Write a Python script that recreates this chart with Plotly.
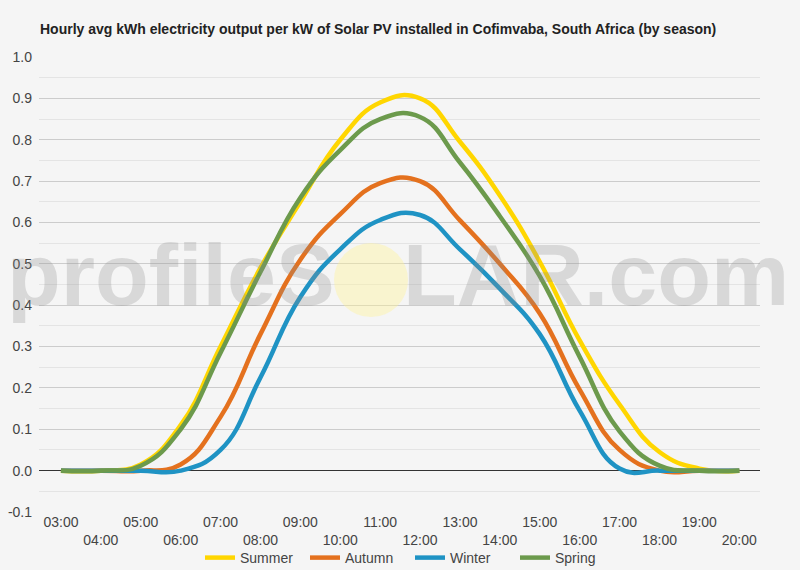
import plotly.graph_objects as go

hours = list(range(3, 21))
hour_labels = [f"{h:02d}:00" for h in hours]
y_ticks = [-0.1, 0.0, 0.1, 0.2, 0.3, 0.4, 0.5, 0.6, 0.7, 0.8, 0.9, 1.0]
y_labels = ["-0.1", "0.0", "0.1", "0.2", "0.3", "0.4", "0.5", "0.6", "0.7", "0.8", "0.9", "1.0"]

summer = [0, 0, 0.015, 0.11, 0.30, 0.49, 0.65, 0.80, 0.89, 0.90, 0.795, 0.665, 0.505, 0.315, 0.16, 0.045, 0.005, 0]
autumn = [0, 0, 0, 0.015, 0.13, 0.33, 0.51, 0.62, 0.695, 0.70, 0.605, 0.50, 0.38, 0.196, 0.05, 0, 0, 0]
winter = [0, 0, 0, 0, 0.05, 0.225, 0.42, 0.535, 0.606, 0.618, 0.535, 0.44, 0.33, 0.145, 0.005, 0, 0, 0]
spring = [0, 0, 0.012, 0.10, 0.285, 0.48, 0.66, 0.775, 0.85, 0.855, 0.745, 0.615, 0.47, 0.275, 0.095, 0.012, 0, 0]

series = [
    ("Summer", summer, "#FFD600"),
    ("Autumn", autumn, "#E4711E"),
    ("Winter", winter, "#1F93C4"),
    ("Spring", spring, "#6C9A4C"),
]

title_text = "Hourly avg kWh electricity output per kW of Solar PV installed in Cofimvaba, South Africa (by season)"

fig = go.Figure()
for name, vals, col in series:
    fig.add_trace(go.Scatter(
        x=hours, y=vals, name=name, mode="lines",
        line=dict(color=col, width=4.5, shape="spline", smoothing=1.3),
    ))

ticktext = [lab if i % 2 == 0 else "<br>" + lab for i, lab in enumerate(hour_labels)]

W, H = 800, 570
L, R, T, B = 39, 40, 57, 58
pw = W - L - R
ph = H - T - B

def px_x(p):
    return (p - L) / pw

def px_y(p):
    return (H - B - p) / ph

fig.update_layout(
    width=W, height=H,
    margin=dict(l=L, r=R, t=T, b=B, autoexpand=False),
    paper_bgcolor="#f5f5f5", plot_bgcolor="rgba(0,0,0,0)",
    font=dict(family="Liberation Sans, Arial, sans-serif", size=14, color="#444"),
    title=dict(text="<b>" + title_text + "</b>", x=40 / W, xref="container", xanchor="left",
               y=1 - 29 / H, yref="container", yanchor="middle",
               font=dict(size=14, color="#222")),
    showlegend=True,
    legend=dict(orientation="h", x=px_x(410), xanchor="center", xref="paper",
                y=1 - 558 / H, yref="container", yanchor="middle",
                font=dict(size=14, color="#444"), itemwidth=30,
                entrywidth=60, entrywidthmode="pixels",
                bgcolor="rgba(0,0,0,0)"),
    xaxis=dict(range=[2.45, 20.52], tickvals=hours, ticktext=ticktext,
               showgrid=False, zeroline=False, showline=False, ticks="",
               tickfont=dict(size=14, color="#444"), fixedrange=True),
    yaxis=dict(range=[-0.1, 1.0], tickvals=y_ticks, ticktext=y_labels,
               showgrid=True, gridcolor="#cccccc", gridwidth=1,
               minor=dict(dtick=0.05, tick0=0, showgrid=True, gridcolor="#e4e4e4", gridwidth=1),
               zeroline=True, zerolinecolor="#333333", zerolinewidth=1,
               showline=False, ticks="", ticklabelstandoff=6,
               tickfont=dict(size=14, color="#444"), fixedrange=True),
)

# watermark (drawn on top, semi-transparent)
wm_col = "rgba(140,140,140,0.27)"
wm_font = dict(size=88, color=wm_col, family="Liberation Sans, Arial")
fig.add_annotation(text="<b>profileS</b>", xref="paper", yref="paper", x=px_x(337), y=px_y(274),
                   xanchor="right", yanchor="middle", showarrow=False, font=wm_font)
fig.add_annotation(text="<b>LAR.com</b>", xref="paper", yref="paper", x=px_x(401), y=px_y(274),
                   xanchor="left", yanchor="middle", showarrow=False, font=wm_font)
fig.add_shape(type="circle", xref="paper", yref="paper",
              x0=px_x(334), x1=px_x(408), y0=px_y(317), y1=px_y(243),
              fillcolor="rgba(255,242,150,0.40)", line=dict(width=0), layer="above")

fig.write_html("out.html")
